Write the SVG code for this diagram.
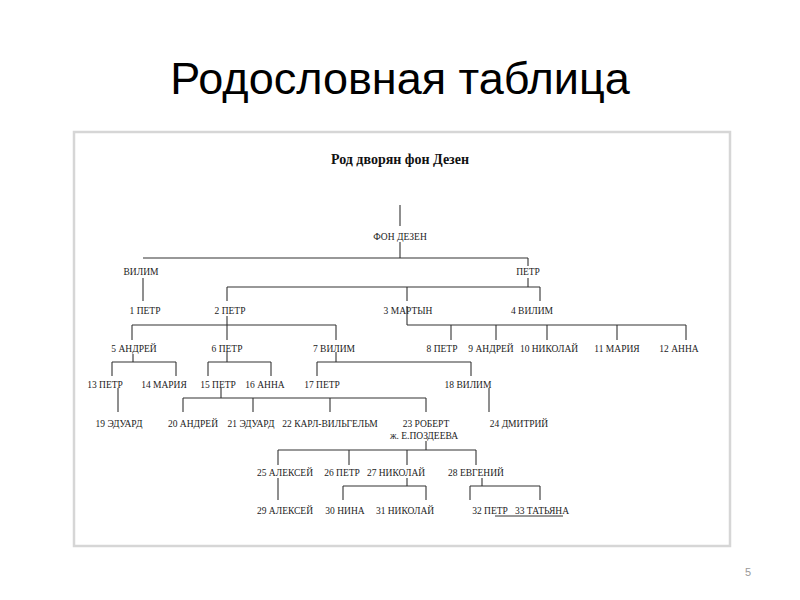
<svg xmlns="http://www.w3.org/2000/svg" width="800" height="600" viewBox="0 0 800 600">
<style>
.t{font-family:"Liberation Serif",serif;font-size:9.5px;fill:#222;text-anchor:middle}
.c line{stroke:#333;stroke-width:1.1}
</style>
<rect width="800" height="600" fill="#fff"/>
<text x="400" y="94" font-family="Liberation Sans,Arial,sans-serif" font-size="45" text-anchor="middle" fill="#000">Родословная таблица</text>
<rect x="74" y="132" width="656" height="414" fill="#fff" stroke="#d6d6d6" stroke-width="2.5"/>
<text x="400" y="164" font-family="Liberation Serif,serif" font-size="14" font-weight="bold" text-anchor="middle" fill="#111">Род дворян фон Дезен</text>
<text x="748" y="576" font-family="Liberation Sans,sans-serif" font-size="11" fill="#999" text-anchor="middle">5</text>
<g class="c">
<line x1="400" y1="205" x2="400" y2="226"/>
<line x1="400" y1="242" x2="400" y2="258"/><line x1="143" y1="258" x2="528" y2="258"/>
<line x1="143" y1="278" x2="143" y2="301"/>
<line x1="528" y1="258" x2="528" y2="266"/>
<line x1="528" y1="278" x2="528" y2="287"/><line x1="227" y1="287" x2="540" y2="287"/>
<line x1="227" y1="287" x2="227" y2="301"/><line x1="407" y1="287" x2="407" y2="301"/><line x1="540" y1="287" x2="540" y2="301"/>
<line x1="227" y1="316" x2="227" y2="340"/><line x1="132" y1="325" x2="336" y2="325"/>
<line x1="132" y1="325" x2="132" y2="340"/><line x1="336" y1="325" x2="336" y2="340"/>
<line x1="407" y1="306" x2="407" y2="325"/><line x1="407" y1="325" x2="686" y2="325"/>
<line x1="451" y1="325" x2="451" y2="340"/><line x1="496" y1="325" x2="496" y2="340"/><line x1="547" y1="325" x2="547" y2="340"/><line x1="617" y1="325" x2="617" y2="340"/><line x1="686" y1="325" x2="686" y2="340"/>
<line x1="133" y1="354" x2="133" y2="362"/><line x1="112" y1="362" x2="176" y2="362"/><line x1="112" y1="362" x2="112" y2="376"/><line x1="176" y1="362" x2="176" y2="376"/>
<line x1="227" y1="352" x2="227" y2="362"/><line x1="208" y1="362" x2="271" y2="362"/><line x1="208" y1="362" x2="208" y2="376"/><line x1="271" y1="362" x2="271" y2="376"/>
<line x1="336" y1="352" x2="336" y2="362"/><line x1="317" y1="362" x2="471" y2="362"/><line x1="317" y1="362" x2="317" y2="376"/><line x1="471" y1="362" x2="471" y2="376"/>
<line x1="118" y1="388" x2="118" y2="412"/>
<line x1="221" y1="388" x2="221" y2="398"/><line x1="183" y1="398" x2="426" y2="398"/>
<line x1="183" y1="398" x2="183" y2="412"/><line x1="253" y1="398" x2="253" y2="412"/><line x1="330" y1="398" x2="330" y2="412"/><line x1="426" y1="398" x2="426" y2="412"/>
<line x1="489" y1="388" x2="489" y2="412"/>
<line x1="426" y1="441" x2="426" y2="450"/><line x1="278" y1="450" x2="476" y2="450"/>
<line x1="278" y1="450" x2="278" y2="465"/><line x1="349" y1="450" x2="349" y2="465"/><line x1="407" y1="450" x2="407" y2="465"/><line x1="476" y1="450" x2="476" y2="465"/>
<line x1="278" y1="478" x2="278" y2="500"/>
<line x1="407" y1="478" x2="407" y2="486"/><line x1="343" y1="486" x2="426" y2="486"/><line x1="343" y1="486" x2="343" y2="500"/><line x1="426" y1="486" x2="426" y2="500"/>
<line x1="482" y1="478" x2="482" y2="486"/><line x1="470" y1="486" x2="540" y2="486"/><line x1="470" y1="486" x2="470" y2="500"/><line x1="540" y1="486" x2="540" y2="500"/>
<line x1="495" y1="516" x2="563" y2="516"/>
</g>
<g id="n0"><text class="t" x="400" y="240">ФОН ДЕЗЕН</text></g>
<g id="nv"><text class="t" x="141" y="275">ВИЛИМ</text></g>
<g id="np"><text class="t" x="528" y="275">ПЕТР</text></g>
<g id="n1"><text class="t" x="145" y="314">1 ПЕТР</text></g>
<g id="n2"><text class="t" x="230" y="314">2 ПЕТР</text></g>
<g id="n3"><text class="t" x="408" y="314">3 МАРТЫН</text></g>
<g id="n4"><text class="t" x="532" y="314">4 ВИЛИМ</text></g>
<g id="n5"><text class="t" x="134" y="352">5 АНДРЕЙ</text></g>
<g id="n6"><text class="t" x="227" y="352">6 ПЕТР</text></g>
<g id="n7"><text class="t" x="334" y="352">7 ВИЛИМ</text></g>
<g id="n8"><text class="t" x="442" y="352">8 ПЕТР</text></g>
<g id="n9"><text class="t" x="491" y="352">9 АНДРЕЙ</text></g>
<g id="n10"><text class="t" x="549" y="352">10 НИКОЛАЙ</text></g>
<g id="n11"><text class="t" x="617" y="352">11 МАРИЯ</text></g>
<g id="n12"><text class="t" x="679" y="352">12 АННА</text></g>
<g id="n13"><text class="t" x="105" y="388">13 ПЕТР</text></g>
<g id="n14"><text class="t" x="164" y="388">14 МАРИЯ</text></g>
<g id="n15"><text class="t" x="218" y="388">15 ПЕТР</text></g>
<g id="n16"><text class="t" x="265" y="388">16 АННА</text></g>
<g id="n17"><text class="t" x="322" y="388">17 ПЕТР</text></g>
<g id="n18"><text class="t" x="468" y="388">18 ВИЛИМ</text></g>
<g id="n19"><text class="t" x="119" y="427">19 ЭДУАРД</text></g>
<g id="n20"><text class="t" x="193" y="427">20 АНДРЕЙ</text></g>
<g id="n21"><text class="t" x="251" y="427">21 ЭДУАРД</text></g>
<g id="n22"><text class="t" x="330" y="427">22 КАРЛ-ВИЛЬГЕЛЬМ</text></g>
<g id="n23"><text class="t" x="426" y="427">23 РОБЕРТ</text><text class="t" x="424" y="439">ж. Е.ПОЗДЕЕВА</text></g>
<g id="n24"><text class="t" x="519" y="427">24 ДМИТРИЙ</text></g>
<g id="n25"><text class="t" x="285" y="476">25 АЛЕКСЕЙ</text></g>
<g id="n26"><text class="t" x="342" y="476">26 ПЕТР</text></g>
<g id="n27"><text class="t" x="396" y="476">27 НИКОЛАЙ</text></g>
<g id="n28"><text class="t" x="476" y="476">28 ЕВГЕНИЙ</text></g>
<g id="n29"><text class="t" x="285" y="514">29 АЛЕКСЕЙ</text></g>
<g id="n30"><text class="t" x="345" y="514">30 НИНА</text></g>
<g id="n31"><text class="t" x="405" y="514">31 НИКОЛАЙ</text></g>
<g id="n32"><text class="t" x="490" y="514">32 ПЕТР</text></g>
<g id="n33"><text class="t" x="542" y="514">33 ТАТЬЯНА</text></g>
</svg>
